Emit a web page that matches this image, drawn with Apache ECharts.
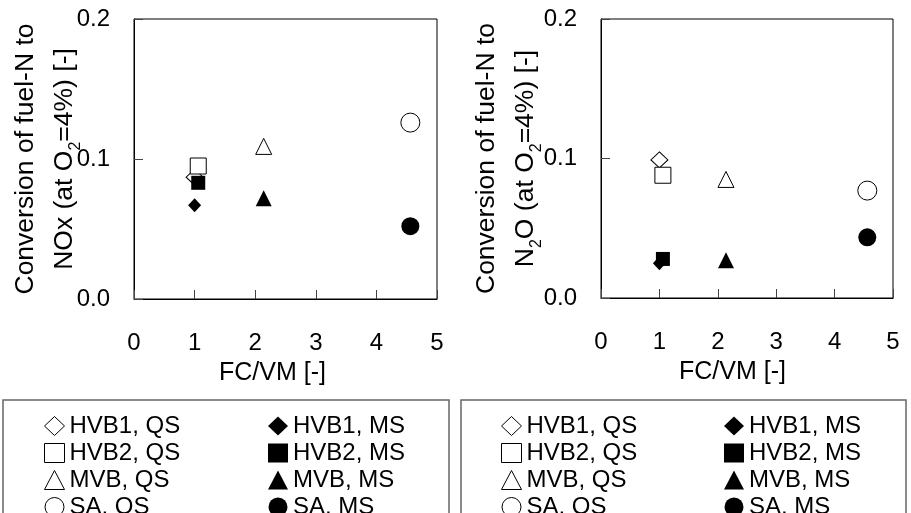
<!DOCTYPE html>
<html><head><meta charset="utf-8">
<script src="https://cdn.jsdelivr.net/npm/echarts@6/dist/echarts.min.js"></script>
<style>html,body{margin:0;padding:0;background:#fff}#c{width:911px;height:513px}</style>
</head><body><div id="c"></div>
<script>
// ---- data ----
const fuels = ['HVB1', 'HVB2', 'MVB', 'SA'];
const fcvm = [1.0, 1.06, 2.14, 4.56];
const noxQS = [0.087, 0.095, 0.109, 0.126];
const noxMS = [0.067, 0.083, 0.072, 0.052];
const n2oQS = [0.099, 0.088, 0.085, 0.077];
const n2oMS = [0.025, 0.028, 0.027, 0.0435];
const modes = ['QS', 'MS'];
const xTickRange = [0, 5, 1];
const yTickRange = [0, 0.2, 0.1];

// ---- styles ----
const FF = 'Liberation Sans, Arial, sans-serif';
const symbols = ['diamond', 'rect', 'triangle', 'circle'];
const sizeQS = [[17, 16], 16, 16, 19];
const sizeMS = [[13, 14], 14, 16, 18];
const styleQS = { color: '#fff', borderColor: '#000', borderWidth: 1, opacity: 1 };
const styleMS = { color: '#000', borderColor: '#000', borderWidth: 0, opacity: 1 };

const chart = echarts.init(document.getElementById('c'), null, { renderer: 'canvas' });

const grids = [
  { left: 134, top: 19, width: 303, height: 280 },
  { left: 601, top: 19, width: 292, height: 279 }
];

function xAxis(g) {
  return {
    type: 'value', gridIndex: g, min: xTickRange[0], max: xTickRange[1], interval: xTickRange[2],
    axisLine: { show: true, lineStyle: { color: '#000', width: 1 } },
    axisTick: { show: true, inside: true, length: 9, lineStyle: { color: '#444' } },
    axisLabel: { margin: 32, fontSize: 24, color: '#000', fontFamily: FF },
    splitLine: { show: false },
    name: 'FC/VM [-]', nameLocation: 'middle', nameGap: 62, nameMoveOverlap: false,
    nameTextStyle: { fontSize: 25, color: '#000', fontFamily: FF, padding: g === 0 ? [0, 26, 0, 0] : [0, 29, 0, 0] }
  };
}
function yAxis(g, name, gap) {
  return {
    type: 'value', gridIndex: g, min: yTickRange[0], max: yTickRange[1], interval: yTickRange[2],
    axisLine: { show: true, lineStyle: { color: '#000', width: 1 } },
    axisTick: { show: true, inside: true, length: 9, lineStyle: { color: '#444' } },
    axisLabel: { margin: 24, fontSize: 24, color: '#000', fontFamily: FF, formatter: v => v.toFixed(1) },
    splitLine: { show: false },
    name: name, nameLocation: 'middle', nameRotate: 90, nameGap: gap, nameMoveOverlap: false,
    nameTextStyle: {
      fontSize: 26.5, lineHeight: 39, color: '#000', fontFamily: FF,
      rich: { sub: { fontSize: 16, lineHeight: 25, verticalAlign: 'bottom', color: '#000', fontFamily: FF } }
    }
  };
}

const series = [];
[[noxQS, noxMS], [n2oQS, n2oMS]].forEach((pair, g) => {
  modes.forEach((m, mi) => {
    fuels.forEach((f, i) => {
      series.push({
        type: 'scatter', name: f + ', ' + m, xAxisIndex: g, yAxisIndex: g,
        symbol: symbols[i], symbolSize: mi === 0 ? sizeQS[i] : sizeMS[i],
        itemStyle: mi === 0 ? styleQS : styleMS,
        emphasis: { disabled: true },
        data: [[fcvm[i], pair[mi][i]]]
      });
    });
  });
});

function legend(mi, left) {
  return {
    orient: 'vertical', left: left, top: 414, height: 140, padding: 0, itemGap: 3,
    itemWidth: 20, itemHeight: 19, selectedMode: false,
    textStyle: { fontSize: 24, lineHeight: 24, color: '#000', fontFamily: FF },
    data: fuels.map((f, i) => ({
      name: f + ', ' + modes[mi], icon: symbols[i],
      itemStyle: mi === 0 ? styleQS : styleMS
    }))
  };
}

chart.setOption({
  animation: false,
  backgroundColor: '#fff',
  grid: grids.map(g => Object.assign({ show: true, borderColor: '#000', borderWidth: 1, outerBoundsMode: 'none', containLabel: false }, g)),
  xAxis: [xAxis(0), xAxis(1)],
  yAxis: [
    yAxis(0, 'Conversion of fuel-N to\nNOx (at O{sub|2}=4%) [-]', 50),
    yAxis(1, 'Conversion of fuel-N to\nN{sub|2}O (at O{sub|2}=4%) [-]', 56)
  ],
  legend: [legend(0, 44), legend(1, 268), legend(0, 501), legend(1, 724)],
  graphic: [
    { type: 'rect', z: -1, shape: { x: 3, y: 400, width: 446, height: 140 }, style: { fill: 'none', stroke: '#666', lineWidth: 1.5 } },
    { type: 'rect', z: -1, shape: { x: 461, y: 400, width: 445, height: 140 }, style: { fill: 'none', stroke: '#666', lineWidth: 1.5 } }
  ],
  series: series
});
</script>
</body></html>
